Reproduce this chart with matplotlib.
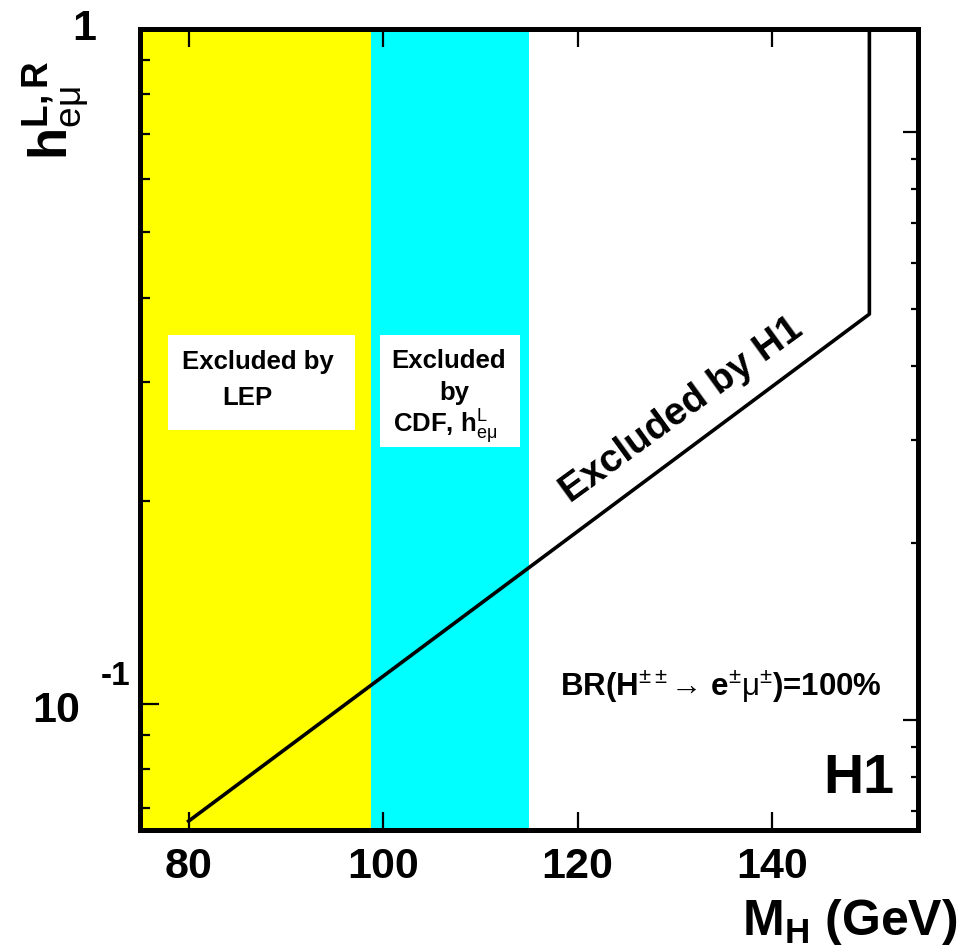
import numpy as np
import matplotlib
matplotlib.use('Agg')
import matplotlib.pyplot as plt
from matplotlib.patches import Rectangle
from matplotlib.ticker import NullFormatter

plt.rcParams['font.family'] = ['Liberation Sans', 'DejaVu Sans']
plt.rcParams['mathtext.fontset'] = 'custom'
plt.rcParams['mathtext.rm'] = 'Liberation Sans'
plt.rcParams['mathtext.it'] = 'Liberation Sans:italic'
plt.rcParams['mathtext.bf'] = 'Liberation Sans:bold'

# excluded regions (GeV)
lep_range = [75, 98.8]
cdf_range = [98.8, 115]

# H1 exclusion contour
h1_mass = [80, 150, 150]
h1_coupling = [0.067, 0.378, 1.0]

x_ticks = [80, 100, 120, 140]

fig = plt.figure(figsize=(9.63, 9.5), dpi=100)
ax = fig.add_axes([140/963, 1 - 830/950, 778/963, 801/950])

ax.axvspan(lep_range[0], lep_range[1], color='#ffff00', lw=0, zorder=1)
ax.axvspan(cdf_range[0], cdf_range[1], color='#00ffff', lw=0, zorder=1)
ax.plot(h1_mass, h1_coupling, color='black', lw=2.6, zorder=4)

ax.set_yscale('log')
ax.set_xlim(75, 155)
ax.set_ylim(0.065, 1)
ax.set_xticks(x_ticks)
ax.set_xticklabels([str(v) for v in x_ticks], fontsize=31, fontweight='bold')
ax.set_yticks([0.1, 1])
ax.set_yticklabels([])
ax.yaxis.set_minor_formatter(NullFormatter())
ax.tick_params(axis='x', which='both', direction='in', top=True, bottom=True,
               length=13, width=1.6, pad=12)
ax.tick_params(axis='y', which='major', direction='in', length=14, width=1.6)
ax.tick_params(axis='y', which='minor', direction='in', length=7, width=1.6)
for s in ax.spines.values():
    s.set_linewidth(3.6)

# right axis has its own (shifted) log scale
ax2 = ax.twinx()
ax2.set_yscale('log')
ax2.set_ylim(0.065, 1.5)
ax2.set_yticks([0.1, 1])
ax2.set_yticklabels([])
ax2.yaxis.set_minor_formatter(NullFormatter())
ax2.tick_params(axis='y', which='major', direction='in', length=11, width=1.6)
ax2.tick_params(axis='y', which='minor', direction='in', length=5, width=1.6)
for s in ax2.spines.values():
    s.set_linewidth(3.6)

# y tick labels
ax.text(-0.072, 1.0, '1', transform=ax.transAxes, fontsize=31,
        fontweight='bold', ha='center', va='center')
ax.text(-0.108, 0.135, '10', transform=ax.transAxes, fontsize=31,
        fontweight='bold', ha='center', va='baseline')
ax.text(-0.032, 0.192, '-1', transform=ax.transAxes, fontsize=24,
        fontweight='bold', ha='center', va='center')

# label boxes
ax.add_patch(Rectangle((0.036, 0.4994), 0.240, 0.118, transform=ax.transAxes,
                       facecolor='white', edgecolor='none', zorder=3))
ax.add_patch(Rectangle((0.3085, 0.478), 0.180, 0.140, transform=ax.transAxes,
                       facecolor='white', edgecolor='none', zorder=3))

bt = dict(transform=ax.transAxes, fontsize=18.5, fontweight='bold', zorder=5, va='center')
ax.text(0.054, 0.584, 'Excluded by', ha='left', **bt)
ax.text(0.1054, 0.539, 'LEP', ha='left', **bt)
ax.text(0.397, 0.586, 'Excluded', ha='center', **bt)
ax.text(0.404, 0.546, 'by', ha='center', **bt)
ax.text(0.392, 0.503, r'CDF, h$^{\mathrm{L}}_{\mathrm{e\mu}}$', ha='center', **bt)

ax.text(0.6967, 0.524, 'Excluded by H1', transform=ax.transAxes, fontsize=28,
        fontweight='bold', rotation=36, ha='center', va='center', zorder=5)

ax.text(0.540, 0.1785,
        'BR(H$^{\\pm\\pm}$\u2192 e$^{\\pm}\\mathrm{\\mu}^{\\pm}$)=100%',
        transform=ax.transAxes, fontsize=22.5, fontweight='bold',
        ha='left', va='center', zorder=5)

ax.text(0.924, 0.0637, 'H1', transform=ax.transAxes, fontsize=40,
        fontweight='bold', ha='center', va='center', zorder=5)

# axis titles
fig.text(0.994, 1 - 922/950, r'$\mathbf{M_H}$ (GeV)', fontsize=36,
         fontweight='bold', ha='right', va='center')
fig.text(55/963, 1 - 110/950, r'$\mathbf{h}^{\mathbf{L,R}}_{\mathrm{e\mu}}$',
         fontsize=38, rotation=90, ha='center', va='center')

fig.savefig('out.png', dpi=100)
